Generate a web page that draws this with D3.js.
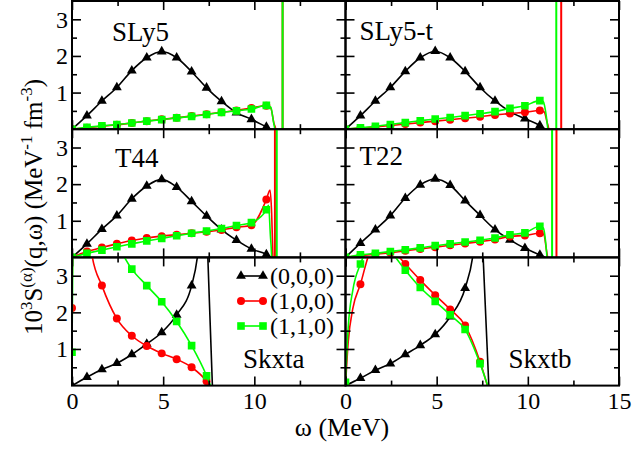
<!DOCTYPE html>
<html>
<head>
<meta charset="utf-8">
<script src="https://cdn.jsdelivr.net/npm/d3@7"></script>
<style>
body { margin: 0; background: #fff; }
</style>
</head>
<body>
<div id="chart"></div>
<script>
// omega values where the symbols sit (MeV)
var markX = [0, 0.82, 1.64, 2.46, 3.28, 4.1, 4.92, 5.74, 6.56, 7.38, 8.2, 9.02, 9.84, 10.66];

// each panel: (0,0,0) black, (1,0,0) red, (1,1,0) green -- values at markX, plus extra curve points
var sly5_000 = [0, 0.37, 0.77, 1.14, 1.6, 1.95, 2.12, 1.95, 1.57, 1.13, 0.76, 0.45, 0.27, 0.06];
var sly5_000x = [[10.9, 0]];
var sly5_100 = [0, 0.04, 0.08, 0.12, 0.17, 0.22, 0.27, 0.31, 0.36, 0.41, 0.46, 0.51, 0.58, 0.64];
var sly5_100x = [[10.9, 0.58], [11.08, 0.15], [11.17, 0], [11.25, -0.5]];
var sly5_110 = [0, 0.05, 0.09, 0.13, 0.17, 0.22, 0.26, 0.31, 0.35, 0.4, 0.46, 0.5, 0.55, 0.65];
var sly5_110x = [[10.9, 0.6], [11.05, 0.2], [11.12, 0], [11.2, -0.5]];
var sly5_pole = [11.55, 11.55];

var sly5t_000 = [0, 0.37, 0.77, 1.14, 1.58, 1.95, 2.13, 1.95, 1.58, 1.14, 0.77, 0.48, 0.29, 0.1];
var sly5t_000x = [[10.95, 0]];
var sly5t_100 = [0, 0.03, 0.06, 0.1, 0.14, 0.18, 0.22, 0.26, 0.3, 0.34, 0.39, 0.43, 0.46, 0.51];
var sly5t_100x = [[10.9, 0.47], [11.05, 0.2], [11.15, 0], [11.3, -0.6]];
var sly5t_110 = [0, 0.04, 0.08, 0.13, 0.18, 0.23, 0.28, 0.32, 0.37, 0.42, 0.48, 0.57, 0.64, 0.78];
var sly5t_110x = [[10.85, 0.75], [11.0, 0.4], [11.1, 0], [11.25, -0.6]];
var sly5t_pole = [11.83, 11.56];

var t44_000 = [0, 0.37, 0.77, 1.14, 1.6, 1.95, 2.13, 1.92, 1.53, 1.13, 0.76, 0.47, 0.23, 0.08];
var t44_000x = [[10.9, 0]];
var t44_100 = [0, 0.16, 0.27, 0.37, 0.46, 0.53, 0.58, 0.62, 0.66, 0.7, 0.75, 0.82, 0.88, 1.58];
var t44_100x = [[10.86, 1.84], [10.95, 1.2], [11.02, 0], [11.08, -1]];
var t44_110 = [0, 0.11, 0.2, 0.29, 0.37, 0.45, 0.52, 0.59, 0.66, 0.72, 0.79, 0.87, 0.95, 1.3];
var t44_110x = [[10.78, 1.42], [10.88, 0.6], [10.95, 0], [11.0, -1]];
var t44_pole = [11.13, 11.23];

var t22_000 = [0, 0.39, 0.76, 1.14, 1.62, 1.98, 2.14, 1.97, 1.55, 1.15, 0.76, 0.48, 0.25, 0.07];
var t22_000x = [[10.95, 0]];
var t22_100 = [0, 0.05, 0.09, 0.13, 0.18, 0.23, 0.28, 0.33, 0.38, 0.43, 0.49, 0.57, 0.6, 0.66];
var t22_100x = [[10.88, 0.62], [11.02, 0.2], [11.08, 0], [11.2, -1]];
var t22_110 = [0, 0.07, 0.11, 0.16, 0.21, 0.26, 0.32, 0.37, 0.42, 0.47, 0.53, 0.62, 0.67, 0.85];
var t22_110x = [[10.85, 0.8], [11.0, 0.3], [11.05, 0], [11.15, -1]];
var t22_pole = [11.57, 11.33];

var skxta_000 = [0, 0.23, 0.44, 0.61, 0.85, 1.14, 1.45, 1.93, 2.73];
var skxta_000x = [[6.9, 3.6], [7.15, 5], [7.3, 5], [7.45, 3.5], [7.7, 0]];
var skxta_100 = [2.12, 4.6, 2.73, 1.83, 1.36, 1.08, 0.88, 0.72, 0.5, 0.12];
var skxta_100x = [[0.06, 4.5], [1.1, 3.55], [7.55, 0]];
var skxta_110 = [0.91, 4.6, 4.4, 3.85, 3.18, 2.73, 2.29, 1.75, 1.09, 0.27];
var skxta_110x = [[0.06, 4.5], [7.6, 0]];

var skxtb_000 = [0, 0.2, 0.42, 0.6, 0.85, 1.1, 1.4, 1.88, 2.66];
var skxtb_000x = [[7.0, 3.6], [7.25, 4.8], [7.4, 4.8], [7.55, 3.5], [7.86, 0]];
var skxtb_100 = [0, 2.77, 3.9, 3.75, 3.32, 2.88, 2.47, 2.08, 1.64, 0.65];
var skxtb_100x = [[0.15, 1.2], [0.4, 2.1], [1.3, 3.6], [7.78, 0]];
var skxtb_110 = [0.09, 3.32, 3.9, 3.66, 3.15, 2.68, 2.3, 1.93, 1.53, 0.6];
var skxtb_110x = [[0.15, 1.6], [0.4, 2.6], [7.8, 0]];

var legendLabels = ["(0,0,0)", "(1,0,0)", "(1,1,0)"];
var xMajor = [0, 5, 10, 15], xMinor = [2.5, 7.5, 12.5];
var yMajor = [1, 2, 3], yMinor = [0.5, 1.5, 2.5];

var colors = ["#000000", "#ff0000", "#00ff00"];
var symbols = [d3.symbolTriangle, d3.symbolCircle, d3.symbolSquare];
var symSize = [42, 50, 58];

var panels = [
  {name: "SLy5",   r: 0, c: 0, lx: 40,  ly: 40,  s: [[sly5_000, sly5_000x], [sly5_100, sly5_100x], [sly5_110, sly5_110x]], pole: sly5_pole},
  {name: "SLy5-t", r: 0, c: 1, lx: 14,  ly: 39,  s: [[sly5t_000, sly5t_000x], [sly5t_100, sly5t_100x], [sly5t_110, sly5t_110x]], pole: sly5t_pole},
  {name: "T44",    r: 1, c: 0, lx: 43,  ly: 38,  s: [[t44_000, t44_000x], [t44_100, t44_100x], [t44_110, t44_110x]], pole: t44_pole},
  {name: "T22",    r: 1, c: 1, lx: 14,  ly: 36,  s: [[t22_000, t22_000x], [t22_100, t22_100x], [t22_110, t22_110x]], pole: t22_pole},
  {name: "Skxta",  r: 2, c: 0, lx: 171, ly: 111, s: [[skxta_000, skxta_000x], [skxta_100, skxta_100x], [skxta_110, skxta_110x]], pole: null, legend: true},
  {name: "Skxtb",  r: 2, c: 1, lx: 163, ly: 111, s: [[skxtb_000, skxtb_000x], [skxtb_100, skxtb_100x], [skxtb_110, skxtb_110x]], pole: null}
];

var W = 273.5, H = 128.2;
var colX = [72, 345.5], rowY = [1, 129.2, 257.4];
var serif = "Liberation Serif";

var svg = d3.select("#chart").append("svg")
    .attr("width", 633).attr("height", 452);

function build(ys, extra) {
  var pts = ys.map(function(y, i) { return {x: markX[i], y: y, m: true}; });
  extra.forEach(function(e) { pts.push({x: e[0], y: e[1], m: false}); });
  pts.sort(function(a, b) { return a.x - b.x; });
  return pts;
}

panels.forEach(function(p, k) {
  var x0 = colX[p.c], y0 = rowY[p.r];
  var xScale = d3.scaleLinear().domain([0, 15]).range([x0, x0 + W]);
  var yScale = d3.scaleLinear().domain([0, 3.5]).range([y0 + H, y0]);

  svg.append("clipPath").attr("id", "clip" + k)
    .append("rect").attr("x", x0).attr("y", y0).attr("width", W).attr("height", H);

  var g = svg.append("g").attr("clip-path", "url(#clip" + k + ")");

  var line = d3.line()
    .x(function(d) { return xScale(d.x); })
    .y(function(d) { return yScale(d.y); })
    .curve(d3.curveMonotoneX);

  p.s.forEach(function(ser, j) {
    var pts = build(ser[0], ser[1]);
    g.append("path").datum(pts)
      .attr("d", line)
      .style("fill", "none")
      .style("stroke", colors[j])
      .style("stroke-width", 1.6);
    g.selectAll(null).data(pts.filter(function(d) { return d.m; }))
      .enter().append("path")
      .attr("d", d3.symbol().type(symbols[j]).size(symSize[j]))
      .attr("transform", function(d) { return "translate(" + xScale(d.x) + "," + yScale(d.y) + ")"; })
      .style("fill", colors[j]);
  });

  if (p.pole) {
    p.pole.forEach(function(w, j) {
      g.append("line")
        .attr("x1", xScale(w)).attr("x2", xScale(w))
        .attr("y1", yScale(0)).attr("y2", yScale(3.5))
        .style("stroke", colors[j + 1]).style("stroke-width", 2);
    });
  }

  // axes, ticks pointing inward on all four sides
  function ax(gen, scale, vals, size, pos, labels) {
    var a = gen(scale).tickValues(vals).tickSizeInner(-size).tickSizeOuter(0).tickPadding(labels ? 6 : 0);
    if (!labels) a.tickFormat("");
    else a.tickFormat(d3.format("d"));
    var gg = svg.append("g").attr("transform", pos).call(a);
    gg.select(".domain").remove();
    gg.selectAll("line").style("stroke", "#000").style("stroke-width", 1.6);
    gg.selectAll("text").style("font-family", serif).style("font-size", "24px").style("fill", "#000");
    return gg;
  }
  var bottomVals = p.r === 2 ? (p.c === 0 ? [0, 5, 10] : xMajor) : [];
  ax(d3.axisBottom, xScale, xMajor.filter(function(v) { return bottomVals.indexOf(v) < 0; }), 9, "translate(0," + (y0 + H) + ")", false);
  if (bottomVals.length) ax(d3.axisBottom, xScale, bottomVals, 9, "translate(0," + (y0 + H) + ")", true);
  ax(d3.axisBottom, xScale, xMinor, 5, "translate(0," + (y0 + H) + ")", false);
  ax(d3.axisTop, xScale, xMajor, 9, "translate(0," + y0 + ")", false);
  ax(d3.axisTop, xScale, xMinor, 5, "translate(0," + y0 + ")", false);
  ax(d3.axisLeft, yScale, yMajor, 9, "translate(" + x0 + ",0)", p.c === 0).selectAll("text").attr("x", -4);
  ax(d3.axisLeft, yScale, yMinor, 5, "translate(" + x0 + ",0)", false);
  ax(d3.axisRight, yScale, yMajor, 9, "translate(" + (x0 + W) + ",0)", false);
  ax(d3.axisRight, yScale, yMinor, 5, "translate(" + (x0 + W) + ",0)", false);

  svg.append("rect")
    .attr("x", x0).attr("y", y0).attr("width", W).attr("height", H)
    .style("fill", "none").style("stroke", "#000").style("stroke-width", 2);

  svg.append("text")
    .attr("x", x0 + p.lx).attr("y", y0 + p.ly)
    .style("font-family", serif).style("font-size", "27px")
    .text(p.name);

  if (p.legend) {
    legendLabels.forEach(function(lab, j) {
      var cy = 276 + j * 25;
      svg.append("line").attr("x1", 241).attr("x2", 263).attr("y1", cy).attr("y2", cy)
        .style("stroke", colors[j]).style("stroke-width", 1.6);
      [241, 263].forEach(function(sx) {
        svg.append("path")
          .attr("d", d3.symbol().type(symbols[j]).size(symSize[j]))
          .attr("transform", "translate(" + sx + "," + cy + ")")
          .style("fill", colors[j]);
      });
      svg.append("text").attr("x", 270).attr("y", cy + 8)
        .style("font-family", serif).style("font-size", "24px").text(lab);
    });
  }
});

// axis titles
var yl = svg.append("text")
  .attr("transform", "translate(42,207) rotate(-90)")
  .attr("text-anchor", "middle")
  .style("font-family", serif)
  .style("font-size", "25px");
yl.append("tspan").text("10");
yl.append("tspan").attr("dy", -10).style("font-size", "17px").text("3");
yl.append("tspan").attr("dy", 10).text("S");
yl.append("tspan").attr("dy", -10).style("font-size", "17px").text("(α)");
yl.append("tspan").attr("dy", 10).text("(q,ω) (MeV");
yl.append("tspan").attr("dy", -10).style("font-size", "17px").text("-1");
yl.append("tspan").attr("dy", 10).text(" fm");
yl.append("tspan").attr("dy", -10).style("font-size", "17px").text("-3");
yl.append("tspan").attr("dy", 10).text(")");

svg.append("text")
  .attr("x", 342).attr("y", 436)
  .attr("text-anchor", "middle")
  .style("font-family", serif)
  .style("font-size", "26px")
  .text("ω (MeV)");
</script>
</body>
</html>
